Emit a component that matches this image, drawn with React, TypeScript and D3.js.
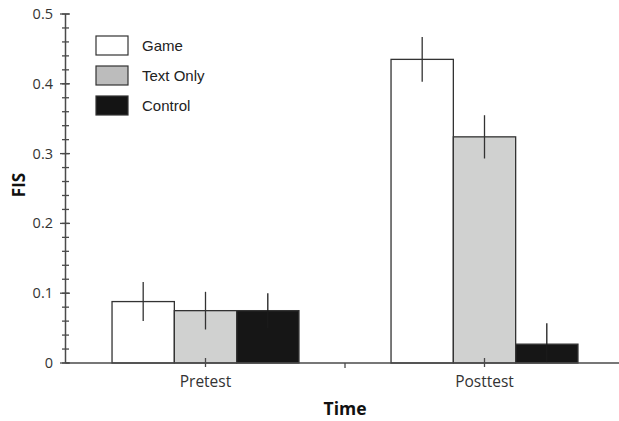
import * as d3 from 'd3'

const groups = ['Pretest', 'Posttest']
const series = ['Game', 'Text Only', 'Control']
const means = [
  [0.088, 0.075, 0.075],
  [0.435, 0.324, 0.027],
]
const errors = [
  [0.028, 0.027, 0.025],
  [0.032, 0.031, 0.03],
]
const yTicks = [0, 0.1, 0.2, 0.3, 0.4, 0.5]

const barFill = { Game: '#ffffff', 'Text Only': '#d0d1d0', Control: '#161616' }
const legendFill = { Game: '#ffffff', 'Text Only': '#bcbcbc', Control: '#141414' }

const W = 619
const H = 421

export default function App() {
  const y = d3.scaleLinear().domain([0, 0.5]).range([363, 14])
  const x0 = d3.scaleBand().domain(groups).range([66, 624]).paddingInner(0.33).paddingOuter(0.165)
  const x1 = d3.scaleBand().domain(series).range([0, x0.bandwidth()])
  const minor = d3.range(0, 0.5001, 0.02)
  const axisColor = '#4a4a4a'

  return (
    <svg width={W} height={H} style={{ position: 'absolute', left: 0, top: 0, background: '#fff' }}>
      {/* bars */}
      {groups.map((g, gi) =>
        series.map((s, si) => {
          const bx = x0(g)! + x1(s)!
          return (
            <rect
              key={g + s}
              x={bx}
              y={y(means[gi][si])}
              width={x1.bandwidth()}
              height={y(0) - y(means[gi][si])}
              fill={barFill[s]}
              stroke="#333"
              strokeWidth={1.3}
            />
          )
        })
      )}
      {/* error bars */}
      {groups.map((g, gi) =>
        series.map((s, si) => {
          const cx = x0(g)! + x1(s)! + x1.bandwidth() / 2
          return (
            <line
              key={'e' + g + s}
              x1={cx}
              x2={cx}
              y1={y(means[gi][si] + errors[gi][si])}
              y2={y(Math.max(0, means[gi][si] - errors[gi][si]))}
              stroke={s === 'Control' ? '#1c1c1c' : '#333'}
              strokeWidth={1.3}
            />
          )
        })
      )}
      {/* y axis */}
      <line x1={65.5} x2={65.5} y1={y(0.5)} y2={y(0)} stroke={axisColor} strokeWidth={1.5} />
      {minor.map((v) => (
        <line key={'m' + v} x1={62} x2={69} y1={y(v)} y2={y(v)} stroke={axisColor} strokeWidth={1.3} />
      ))}
      {yTicks.map((v) => (
        <g key={'t' + v}>
          <line x1={60} x2={70} y1={y(v)} y2={y(v)} stroke={axisColor} strokeWidth={1.3} />
          <text
            x={53}
            y={y(v)}
            dy="0.35em"
            textAnchor="end"
            fontFamily="Open Sans"
            fontSize={14.5}
            fill="#333"
          >
            {v === 0 ? '0' : d3.format('.1f')(v)}
          </text>
        </g>
      ))}
      {/* x axis */}
      <line x1={65.5} x2={W} y1={y(0)} y2={y(0)} stroke={axisColor} strokeWidth={1.5} />
      {groups.map((g) => {
        const cx = x0(g)! + x0.bandwidth() / 2
        return (
          <g key={'x' + g}>
            <line x1={cx} x2={cx} y1={y(0) - 5} y2={y(0) + 4} stroke={axisColor} strokeWidth={1.3} />
            <text x={cx} y={387} textAnchor="middle" fontFamily="Open Sans" fontSize={15.5} fill="#333">
              {g}
            </text>
          </g>
        )
      })}
      {groups.slice(1).map((g) => {
        const sx = x0(g)! - (x0.step() - x0.bandwidth()) / 2
        return <line key={'s' + g} x1={sx} x2={sx} y1={y(0)} y2={y(0) + 5} stroke={axisColor} strokeWidth={1.3} />
      })}
      {/* axis titles */}
      <text x={345} y={415} textAnchor="middle" fontFamily="Open Sans" fontWeight="bold" fontSize={17.5} fill="#111">
        Time
      </text>
      <text
        transform="translate(25,185) rotate(-90)"
        textAnchor="middle"
        fontFamily="Open Sans"
        fontWeight="bold"
        fontSize={17}
        fill="#111"
      >
        FIS
      </text>
      {/* legend */}
      {series.map((s, i) => (
        <g key={'l' + s} transform={`translate(96,${36 + i * 30})`}>
          <rect x={0} y={0} width={32} height={19} fill={legendFill[s]} stroke="#333" strokeWidth={1.2} />
          <text x={46} y={15} fontFamily="Liberation Sans" fontSize={15} fill="#222">
            {s}
          </text>
        </g>
      ))}
    </svg>
  )
}
